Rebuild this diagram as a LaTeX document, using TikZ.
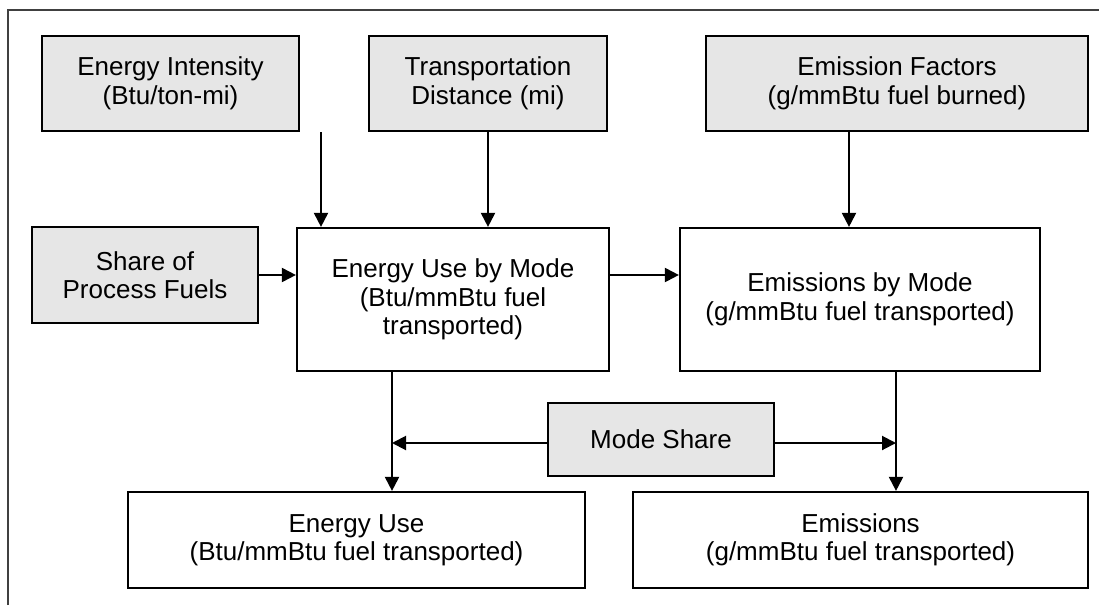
\documentclass[tikz,border=0pt]{standalone}
\usepackage{fontspec}
\setmainfont{Liberation Sans}
\usetikzlibrary{arrows.meta}
\definecolor{boxgray}{HTML}{E6E6E6}
\definecolor{framegray}{HTML}{404040}
\begin{document}
\begin{tikzpicture}[x=1pt,y=-1pt,
  every node/.style={font=\fontsize{26pt}{28.5pt}\selectfont, align=center, inner sep=0pt, text=black},
  inbox/.style={draw=black, line width=2.2pt, fill=boxgray, rectangle},
  calcbox/.style={draw=black, line width=2.2pt, fill=white, rectangle},
  conn/.style={draw=black, line width=2pt, -{Triangle[length=14pt,width=14pt]}}]
\useasboundingbox (0,0) rectangle (1099,605);
\draw[framegray, line width=2.2pt] (8,605) -- (8,10) -- (1099,10);

\node[inbox, minimum width=257pt, minimum height=95pt] (ei) at (170.5,83.5) {Energy Intensity\\(Btu/ton-mi)};
\node[inbox, minimum width=238pt, minimum height=95pt] (td) at (488,83.5) {Transportation\\Distance (mi)};
\node[inbox, minimum width=382pt, minimum height=95pt] (ef) at (897,83.5) {Emission Factors\\(g/mmBtu fuel burned)};
\node[inbox, minimum width=226pt, minimum height=96pt] (spf) at (145,275) {Share of\\Process Fuels};
\node[calcbox, minimum width=312pt, minimum height=143pt] (eum) at (453,299.5) {Energy Use by Mode\\(Btu/mmBtu fuel\\transported)};
\node[calcbox, minimum width=360pt, minimum height=143pt] (ebm) at (860,299.5) {Emissions by Mode\\(g/mmBtu fuel transported)};
\node[inbox, minimum width=226pt, minimum height=73pt] (ms) at (661,439.5) {Mode Share};
\node[calcbox, minimum width=457pt, minimum height=96pt] (eu) at (356.5,540) {Energy Use\\(Btu/mmBtu fuel transported)};
\node[calcbox, minimum width=455pt, minimum height=96pt] (em) at (860.5,540) {Emissions\\(g/mmBtu fuel transported)};

\coordinate (xei) at (321,275);
\coordinate (xef) at (849,275);
\coordinate (yrow) at (0,275);
\coordinate (msl) at (392,443);
\coordinate (msr) at (896,443);

\draw[conn] (ei.south -| xei) -- (eum.north -| xei);
\draw[conn] (td.south) -- (eum.north -| td.south);
\draw[conn] (ef.south -| xef) -- (ebm.north -| xef);
\draw[conn] (spf.east) -- (spf.east -| eum.west);
\draw[conn] (eum.east |- yrow) -- (ebm.west |- yrow);
\draw[conn] (eum.south -| msl) -- (eu.north -| msl);
\draw[conn] (ebm.south -| msr) -- (em.north -| msr);
\draw[conn] (ms.west |- msl) -- (msl);
\draw[conn] (ms.east |- msr) -- (msr);
\end{tikzpicture}
\end{document}
